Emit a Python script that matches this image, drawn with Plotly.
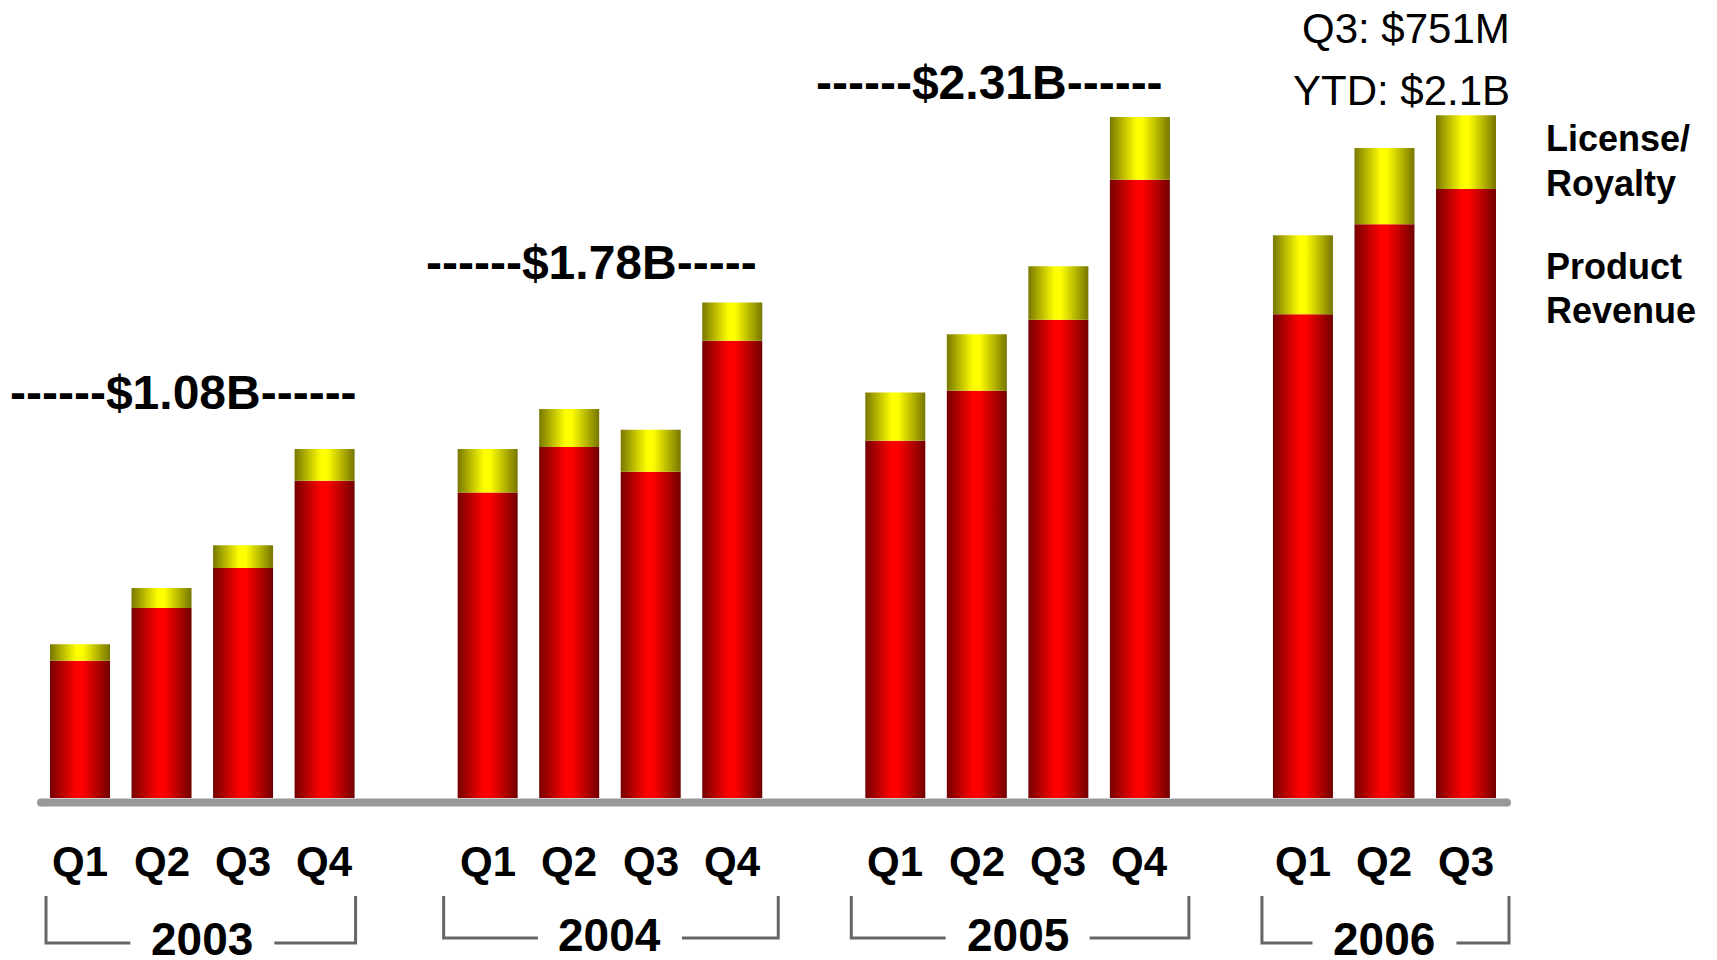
import plotly.graph_objects as go

# ---------------- data (US$ millions) ----------------
years = ["2003", "2004", "2005", "2006"]
quarters = [
    ["Q1", "Q2", "Q3", "Q4"],
    ["Q1", "Q2", "Q3", "Q4"],
    ["Q1", "Q2", "Q3", "Q4"],
    ["Q1", "Q2", "Q3"],
]
product_revenue = [
    [151, 209, 253, 349],
    [336, 386, 359, 503],
    [393, 448, 526, 680],
    [532, 631, 670],
]
license_royalty = [
    [18, 22, 25, 35],
    [48, 42, 46, 42],
    [53, 62, 59, 69],
    [87, 84, 81],
]
year_total_labels = ["------$1.08B------", "------$1.78B-----", "------$2.31B------"]
latest_labels = ["Q3: $751M", "YTD: $2.1B"]
legend_labels = [["License/", "Royalty"], ["Product", "Revenue"]]

# ---------------- layout constants (pixels) ----------------
W, H = 1717, 960
X0_PX = 80.0        # centre of first slot
SLOT_PX = 81.53     # slot pitch
BASE_PX = 798.0     # zero line
M_PER_PX = 1.1      # value per pixel
BAR_W = 60.0 / SLOT_PX
FONT = "Liberation Sans, Arial, sans-serif"

RED_SCALE = [[0, "#760000"], [0.44, "#ff0000"], [0.54, "#ff0000"], [1, "#720000"]]
YEL_SCALE = [[0, "#787800"], [0.44, "#ffff00"], [0.54, "#ffff00"], [1, "#767600"]]


def px_x(px):
    return px / W


def px_y(py):
    return 1 - py / H


fig = go.Figure()

slots_by_year = []
for yi, prods in enumerate(product_revenue):
    slots = [yi * 5 + qi for qi in range(len(prods))]
    slots_by_year.append(slots)
    for qi, s in enumerate(slots):
        p = prods[qi]
        lic = license_royalty[yi][qi]
        l, r = s - BAR_W / 2, s + BAR_W / 2
        for base, top, scale, name in (
            (0, p, RED_SCALE, "Product Revenue"),
            (p, p + lic, YEL_SCALE, "License/Royalty"),
        ):
            fig.add_trace(
                go.Scatter(
                    x=[l, r, r, l, l],
                    y=[base, base, top, top, base],
                    mode="lines",
                    line=dict(width=0),
                    fill="toself",
                    fillgradient=dict(type="horizontal", colorscale=scale),
                    name=name,
                    showlegend=False,
                    hoverinfo="skip",
                )
            )

annotations = []
shapes = []

# quarter labels
for yi, slots in enumerate(slots_by_year):
    for qi, s in enumerate(slots):
        annotations.append(dict(
            x=s, xref="x", y=px_y(861), yref="paper",
            text="<b>%s</b>" % quarters[yi][qi], showarrow=False,
            xanchor="center", yanchor="middle",
            font=dict(family=FONT, size=42, color="black"),
        ))

# year labels + brackets
year_label_py = [939, 935, 935, 939]
bracket_bottom_py = [943, 938, 938, 943]
bracket_pad_px = [(34, 31), (44, 46), (44, 49), (41, 43)]
BRACKET_TOP_PY = 896
GAP_PX = 72
for yi, slots in enumerate(slots_by_year):
    cx = (slots[0] + slots[-1]) / 2
    annotations.append(dict(
        x=cx, xref="x", y=px_y(year_label_py[yi]), yref="paper",
        text="<b>%s</b>" % years[yi], showarrow=False,
        xanchor="center", yanchor="middle",
        font=dict(family=FONT, size=46, color="black"),
    ))
    lx = slots[0] - bracket_pad_px[yi][0] / SLOT_PX
    rx = slots[-1] + bracket_pad_px[yi][1] / SLOT_PX
    yb = px_y(bracket_bottom_py[yi])
    yt = px_y(BRACKET_TOP_PY)
    g = GAP_PX / SLOT_PX
    path = "M %f,%f L %f,%f L %f,%f M %f,%f L %f,%f L %f,%f" % (
        lx, yt, lx, yb, cx - g, yb, cx + g, yb, rx, yb, rx, yt)
    shapes.append(dict(type="path", path=path, xref="x", yref="paper",
                       line=dict(color="#666666", width=3)))

# baseline
shapes.append(dict(type="line", xref="paper", yref="paper",
                   x0=px_x(41), x1=px_x(1507), y0=px_y(802.5), y1=px_y(802.5),
                   line=dict(color="#999999", width=8)))
for ex in (41, 1507):
    shapes.append(dict(type="circle", xref="paper", yref="paper",
                       x0=px_x(ex - 4), x1=px_x(ex + 4),
                       y0=px_y(806.5), y1=px_y(798.5),
                       fillcolor="#999999", line=dict(width=0)))

# year totals
total_pos = [(183.5, 392), (591, 262), (989.5, 82)]
for txt, (px, py) in zip(year_total_labels, total_pos):
    annotations.append(dict(
        x=px_x(px), xref="paper", y=px_y(py), yref="paper",
        text="<b>%s</b>" % txt, showarrow=False,
        xanchor="center", yanchor="middle",
        font=dict(family=FONT, size=48, color="black"),
    ))

# latest quarter / YTD
for txt, py in zip(latest_labels, (29, 90)):
    annotations.append(dict(
        x=px_x(1512), xref="paper", y=px_y(py), yref="paper",
        text=txt, showarrow=False, xanchor="right", yanchor="middle",
        font=dict(family=FONT, size=42, color="black"),
    ))

# legend-like labels
legend_py = [[138, 183.5], [266, 310]]
for lines, pys in zip(legend_labels, legend_py):
    for txt, py in zip(lines, pys):
        annotations.append(dict(
            x=px_x(1544), xref="paper", y=px_y(py), yref="paper",
            text="<b>%s</b>" % txt, showarrow=False,
            xanchor="left", yanchor="middle",
            font=dict(family=FONT, size=36, color="black"),
        ))

fig.update_layout(
    width=W, height=H,
    margin=dict(l=0, r=0, t=0, b=0, pad=0),
    paper_bgcolor="white", plot_bgcolor="white",
    showlegend=False,
    xaxis=dict(range=[(0 - X0_PX) / SLOT_PX, (W - X0_PX) / SLOT_PX],
               visible=False, fixedrange=True),
    yaxis=dict(range=[-(H - BASE_PX) * M_PER_PX, BASE_PX * M_PER_PX],
               visible=False, fixedrange=True),
    annotations=annotations,
    shapes=shapes,
)

fig.write_html(
    "out.html",
    config={"displayModeBar": False},
    post_script="document.body.style.margin='0';document.body.style.overflow='hidden';",
)
